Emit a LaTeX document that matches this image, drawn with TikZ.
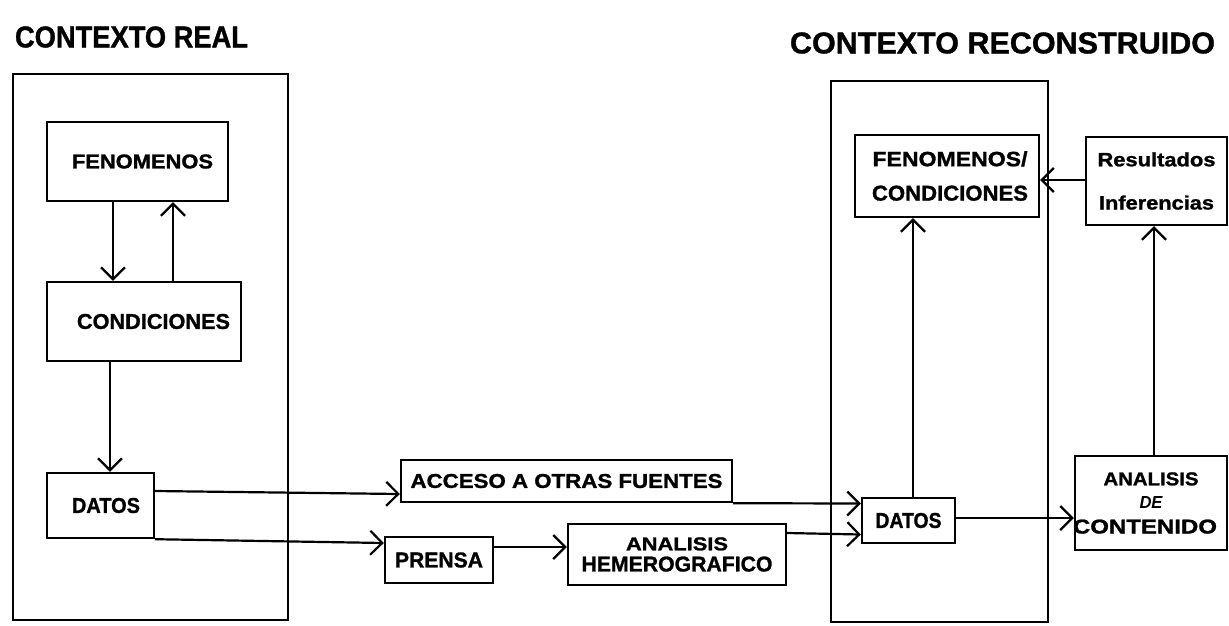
\documentclass[tikz,border=0pt]{standalone}
\usepackage{fontspec}
\setmainfont{Liberation Sans}[BoldFeatures={FakeBold=1.2}]
\usepackage{graphicx}
\usetikzlibrary{arrows.meta}
\newcommand{\rt}[3]{\resizebox{#1pt}{#2pt}{\bfseries #3}}
\newcommand{\rti}[3]{\resizebox{#1pt}{#2pt}{\bfseries\itshape #3}}
\begin{document}
\begin{tikzpicture}[x=1pt,y={(0pt,-1pt)},
  box/.style={draw, line width=2.4pt, rectangle, inner sep=0pt, align=center},
  frame/.style={draw, line width=2.6pt, rectangle, inner sep=0pt},
  arr/.style={line width=2.2pt, -{Straight Barb[length=12pt,width=24pt,line width=2.2pt]}},
  title/.style={inner sep=0pt}]
\useasboundingbox (0,0) rectangle (1229,625);
\fill[white] (0,0) rectangle (1229,625);

% titles
\node[title] (titL) at (131.5,37) {\rt{233}{21}{CONTEXTO REAL}};
\node[title] (titR) at (1002.5,43) {\rt{425}{21}{CONTEXTO RECONSTRUIDO}};

% frames
\node[frame, minimum width=275pt, minimum height=546pt] (frameL) at (150.5,347) {};
\node[frame, minimum width=217pt, minimum height=541pt] (frameR) at (939.5,351.5) {};

% left boxes
\node[box, minimum width=181pt, minimum height=79pt] (fenL) at (137.5,161.5) {\hspace*{10pt}\rt{141}{14}{FENOMENOS}};
\node[box, minimum width=194pt, minimum height=79pt] (condL) at (144,321.5) {\hspace*{19pt}\rt{153}{15}{CONDICIONES}};
\node[box, minimum width=107pt, minimum height=65pt] (datL) at (100.5,505.5) {\hspace*{11pt}\rt{68}{15}{DATOS}};

% middle boxes
\node[box, minimum width=331pt, minimum height=42pt] (acceso) at (566.5,481) {\rt{312}{14}{ACCESO A OTRAS FUENTES}};
\node[box, minimum width=108pt, minimum height=46pt] (prensa) at (439,560) {\rt{88}{15}{PRENSA}};
\node[box, minimum width=218pt, minimum height=61pt] (hemero) at (677,554.5) {\rt{102}{13}{ANALISIS}\\[5pt]\rt{191}{15}{HEMEROGRAFICO}};

% right boxes
\node[box, minimum width=184pt, minimum height=82pt] (fenR) at (947,176) {\hspace*{6pt}\rt{155}{15}{FENOMENOS/}\\[18pt]\hspace*{6pt}\rt{156}{15}{CONDICIONES}};
\node[box, minimum width=141pt, minimum height=88pt] (resul) at (1156.5,181) {\rt{118}{14}{Resultados}\\[28pt]\rt{115}{14}{Inferencias}};
\node[box, minimum width=93pt, minimum height=45pt] (datR) at (908.5,520.5) {\rt{66}{15}{DATOS}};
\node[box, minimum width=152pt, minimum height=94pt] (anaC) at (1151,503) {\rt{95}{13}{ANALISIS}\\[10pt]\rti{23}{12}{DE}\\[10pt]\hspace*{-12pt}\rt{144}{14}{CONTENIDO}};

% connectors
\draw[arr] ([xshift=-24.5pt]fenL.south) -- ([xshift=-31pt]condL.north);
\draw[arr] ([xshift=29pt]condL.north) -- ([xshift=35.5pt]fenL.south);
\draw[arr] ([xshift=-34pt]condL.south) -- ([xshift=9.5pt]datL.north);
\draw[arr] ([yshift=14.5pt]datL.east) -- ([yshift=-13pt]acceso.west);
\draw[arr] (acceso.south east) -- ([yshift=17pt]datR.west);
\draw[arr] (datL.south east) -- ([yshift=17pt]prensa.west);
\draw[arr] ([yshift=13pt]prensa.east) -- ([yshift=7.5pt]hemero.west);
\draw[arr] ([yshift=21.5pt]hemero.east) -- ([yshift=-14pt]datR.west);
\draw[arr] ([xshift=4.5pt]datR.north) -- ([xshift=-34pt]fenR.south);
\draw[arr] ([yshift=2.5pt]datR.east) -- ([yshift=-15pt]anaC.west);
\draw[arr] ([xshift=3pt]anaC.north) -- ([xshift=-2.5pt]resul.south);
\draw[arr] ([yshift=1pt]resul.west) -- ([yshift=-4pt]fenR.east);
\end{tikzpicture}
\end{document}
